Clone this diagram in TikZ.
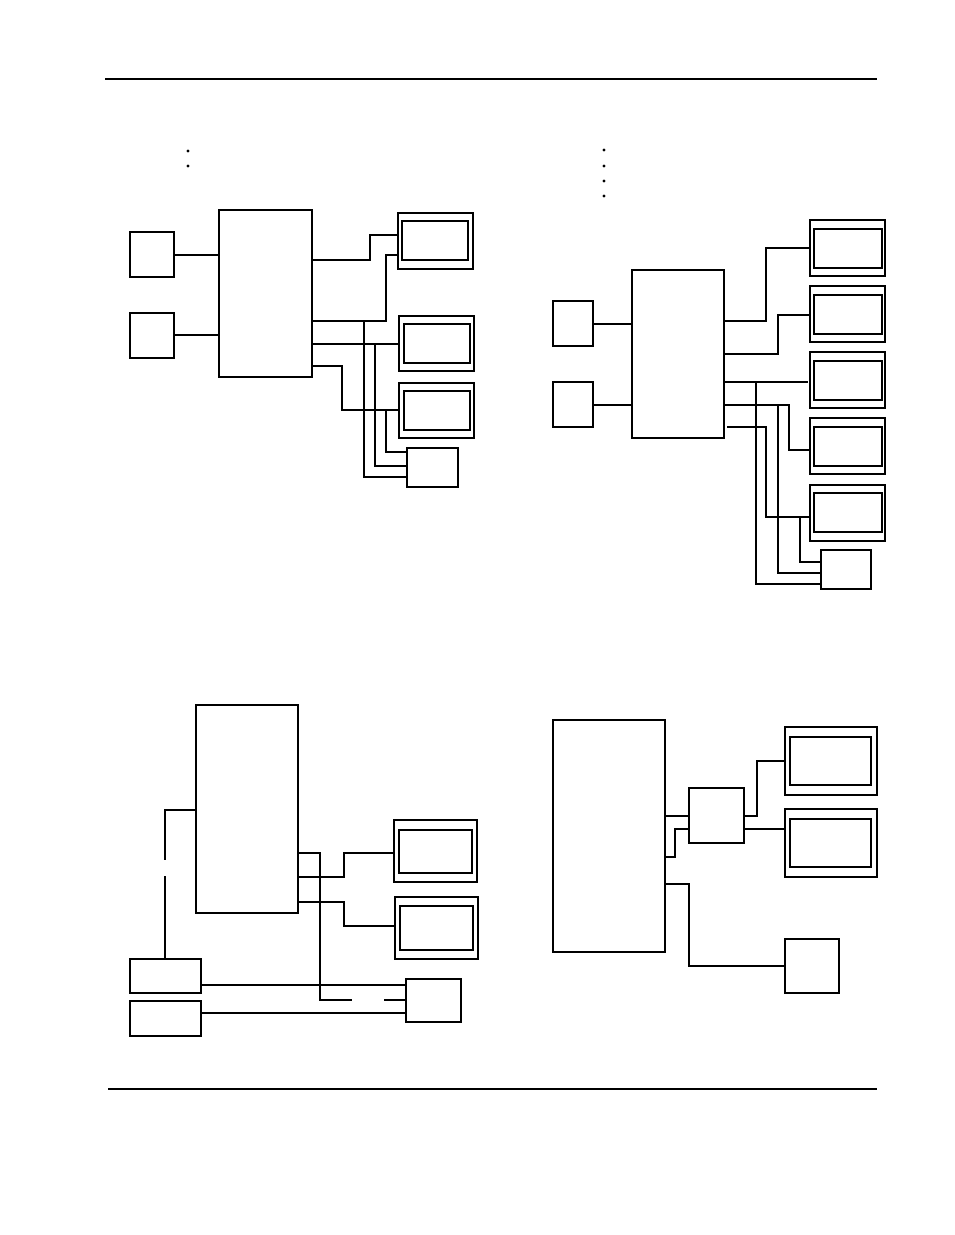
\documentclass[tikz,border=0pt]{standalone}
\newcommand\bx[5]{\node[bx,minimum width={#4-#2},minimum height={#5-#3}] (#1) at ({(#2+#4)/2},{(#3+#5)/2}) {};}
\newcommand\mon[9]{\bx{#1}{#2}{#3}{#4}{#5}\bx{#1i}{#6}{#7}{#8}{#9}}
\begin{document}
\begin{tikzpicture}[x=1pt,y=-1pt,line width=1.1pt,
  bx/.style={draw,rectangle,inner sep=0pt,outer sep=0pt},
  ln/.style={draw,line width=1.1pt}]
\useasboundingbox (0,0) rectangle (954,1235);
\coordinate (r1a) at (105,79); \coordinate (r1b) at (877,79);
\coordinate (r2a) at (108,1089); \coordinate (r2b) at (877,1089);
\draw (r1a) -- (r1b); \draw (r2a) -- (r2b);
% bullets
\foreach \p/\q in {188/151,188/166,604/150,604/166,604/181,604/196}
  \fill (\p,\q) circle (1.6pt);
% ---- top left
\bx{A}{219}{210}{312}{377}
\bx{A1}{130}{232}{174}{277}
\bx{A2}{130}{313}{174}{358}
\mon{Am1}{398}{213}{473}{269}{402}{221}{468}{260}
\mon{Am2}{399}{316}{474}{371}{404}{324}{470}{363}
\mon{Am3}{399}{383}{474}{438}{404}{391}{470}{430}
\bx{As}{407}{448}{458}{487}
\draw (A1.east|-0,255) -- (A.west|-0,255);
\draw (A2.east|-0,335) -- (A.west|-0,335);
\draw (A.east|-0,260) -| (370,235) -- (Am1.west|-0,235);
\draw (A.east|-0,321) -| (386,255) -- (Am1.west|-0,255);
\draw (364,321) |- (As.west|-0,477);
\draw (A.east|-0,344) -- (Am2.west|-0,344);
\draw (375,344) |- (As.west|-0,466);
\draw (A.east|-0,366) -| (342,410) -- (Am3.west|-0,410);
\draw (386,410) |- (As.west|-0,452);
% ---- top right
\bx{B}{632}{270}{724}{438}
\bx{B1}{553}{301}{593}{346}
\bx{B2}{553}{382}{593}{427}
\mon{Bm1}{810}{220}{885}{276}{814}{229}{882}{268}
\mon{Bm2}{810}{286}{885}{342}{814}{295}{882}{334}
\mon{Bm3}{810}{352}{885}{408}{814}{361}{882}{400}
\mon{Bm4}{810}{418}{885}{474}{814}{427}{882}{466}
\mon{Bm5}{810}{485}{885}{541}{814}{493}{882}{532}
\bx{Bs}{821}{550}{871}{589}
\draw (B1.east|-0,324) -- (B.west|-0,324);
\draw (B2.east|-0,405) -- (B.west|-0,405);
\draw (B.east|-0,321) -| (766,248) -- (Bm1.west|-0,248);
\draw (B.east|-0,354) -| (778,315) -- (Bm2.west|-0,315);
\draw (B.east|-0,382) -- (808,382);
\draw (756,382) |- (Bs.west|-0,584);
\draw (B.east|-0,405) -| (789,450) -- (Bm4.west|-0,450);
\draw (778,405) |- (Bs.west|-0,573);
\draw (727,427) -| (766,517) -- (Bm5.west|-0,517);
\draw (800,517) |- (Bs.west|-0,562);
% ---- bottom left
\bx{C}{196}{705}{298}{913}
\bx{C1}{130}{959}{201}{993}
\bx{C2}{130}{1001}{201}{1036}
\mon{Cm1}{394}{820}{477}{882}{399}{830}{472}{873}
\mon{Cm2}{395}{897}{478}{959}{400}{906}{473}{950}
\bx{Cs}{406}{979}{461}{1022}
\draw (C.west|-0,810) -| (165,860);
\draw (165,876) -- (C1.north-|165,0);
\draw (C.east|-0,853) -| (320,1000) -- (352,1000);
\draw (384,1000) -- (Cs.west|-0,1000);
\draw (C.east|-0,877) -| (344,853) -- (Cm1.west|-0,853);
\draw (C.east|-0,902) -| (344,926) -- (Cm2.west|-0,926);
\draw (C1.east|-0,985) -- (Cs.west|-0,985);
\draw (C2.east|-0,1013) -- (Cs.west|-0,1013);
% ---- bottom right
\bx{D}{553}{720}{665}{952}
\bx{Dh}{689}{788}{744}{843}
\mon{Dm1}{785}{727}{877}{795}{790}{737}{871}{785}
\mon{Dm2}{785}{809}{877}{877}{790}{819}{871}{867}
\bx{Ds}{785}{939}{839}{993}
\draw (D.east|-0,816) -- (Dh.west|-0,816);
\draw (D.east|-0,857) -| (675,829) -- (Dh.west|-0,829);
\draw (Dh.east|-0,816) -| (757,761) -- (Dm1.west|-0,761);
\draw (Dh.east|-0,829) -- (Dm2.west|-0,829);
\draw (D.east|-0,884) -| (689,966) -- (Ds.west|-0,966);
\end{tikzpicture}
\end{document}
